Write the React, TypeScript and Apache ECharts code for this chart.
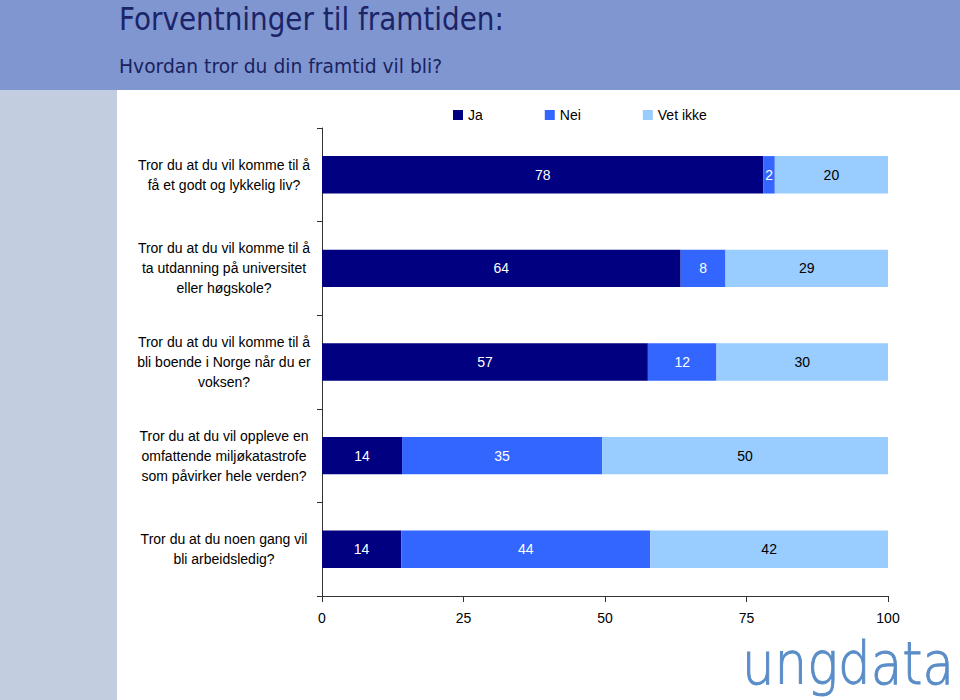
import React, { useEffect, useRef } from "react";
import * as echarts from "echarts";

const categories = [
  "Tror du at du vil komme til å\nfå et godt og lykkelig liv?",
  "Tror du at du vil komme til å\nta utdanning på universitet\neller høgskole?",
  "Tror du at du vil komme til å\nbli boende i Norge når du er\nvoksen?",
  "Tror du at du vil oppleve en\nomfattende miljøkatastrofe\nsom påvirker hele verden?",
  "Tror du at du noen gang vil\nbli arbeidsledig?",
];
const seriesNames = ["Ja", "Nei", "Vet ikke"];
const jaValues = [78, 64, 57, 14, 14];
const neiValues = [2, 8, 12, 35, 44];
const vetIkkeValues = [20, 29, 30, 50, 42];
const xTicks = [0, 25, 50, 75, 100];

const colors = ["#000080", "#3366ff", "#99ccff"];
const labelColors = ["#ffffff", "#ffffff", "#000000"];
const FONT = "'Liberation Sans', Arial, sans-serif";

export default function App() {
  const ref = useRef<HTMLDivElement>(null);
  useEffect(() => {
    document.body.style.margin = "0";
    if (!ref.current) return;
    const chart = echarts.init(ref.current, undefined, { renderer: "svg" });
    const raw = [jaValues, neiValues, vetIkkeValues];
    const totals = jaValues.map((v, i) => v + neiValues[i] + vetIkkeValues[i]);
    const series = raw.map((arr, si) => ({
      name: seriesNames[si],
      type: "bar",
      stack: "total",
      barWidth: "40%",
      itemStyle: { color: colors[si] },
      label: {
        show: true,
        position: "inside",
        color: labelColors[si],
        fontFamily: FONT,
        fontSize: 14,
        formatter: (p: any) => String(arr[p.dataIndex]),
      },
      data: arr.map((v, i) => (v / totals[i]) * 100),
    }));
    chart.setOption({
      animation: false,
      backgroundColor: "#ffffff",
      graphic: [
        { type: "rect", left: 0, top: 0, shape: { width: 960, height: 90 }, style: { fill: "#8096d0" }, z: -10 },
        { type: "rect", left: 0, top: 90, shape: { width: 117, height: 610 }, style: { fill: "#c3cde0" }, z: -10 },
        {
          type: "text",
          x: 119,
          y: 3,
          scaleX: 0.87,
          style: { text: "Forventninger til framtiden:", fill: "#1c2468", font: "normal 32px 'DejaVu Sans', Verdana, sans-serif" },
        },
        {
          type: "text",
          x: 119,
          y: 56,
          scaleX: 0.935,
          style: { text: "Hvordan tror du din framtid vil bli?", fill: "#1a2260", font: "normal 20px 'DejaVu Sans', Verdana, sans-serif" },
        },
        {
          type: "text",
          x: 742,
          y: 635,
          scaleX: 0.887,
          style: {
            text: "ungdata",
            fill: "#5a8dc8",
            stroke: "#5a8dc8",
            lineWidth: 1,
            font: "200 58px 'DejaVu Sans', sans-serif",
          },
        },
      ],
      legend: {
        data: seriesNames,
        left: 453,
        top: 108,
        padding: 0,
        icon: "rect",
        itemWidth: 10,
        itemHeight: 10,
        itemGap: 62,
        textStyle: { fontFamily: FONT, fontSize: 14, color: "#000" },
      },
      grid: { left: 322, right: 72, top: 128, bottom: 104 },
      xAxis: {
        type: "value",
        min: xTicks[0],
        max: xTicks[xTicks.length - 1],
        interval: 25,
        axisLine: { show: true, lineStyle: { color: "#333", width: 1 } },
        axisTick: { show: true, length: 6, lineStyle: { color: "#333" } },
        splitLine: { show: false },
        axisLabel: { fontFamily: FONT, fontSize: 14, color: "#000", margin: 15 },
      },
      yAxis: {
        type: "category",
        inverse: true,
        data: categories,
        axisLine: { show: true, lineStyle: { color: "#333", width: 1 } },
        axisTick: { show: true, length: 5, lineStyle: { color: "#333" } },
        axisLabel: {
          fontFamily: FONT,
          fontSize: 14,
          color: "#000",
          align: "center",
          margin: 98,
          lineHeight: 20,
        },
      },
      series,
    });
    return () => chart.dispose();
  }, []);
  return <div ref={ref} style={{ width: 960, height: 700 }} />;
}
